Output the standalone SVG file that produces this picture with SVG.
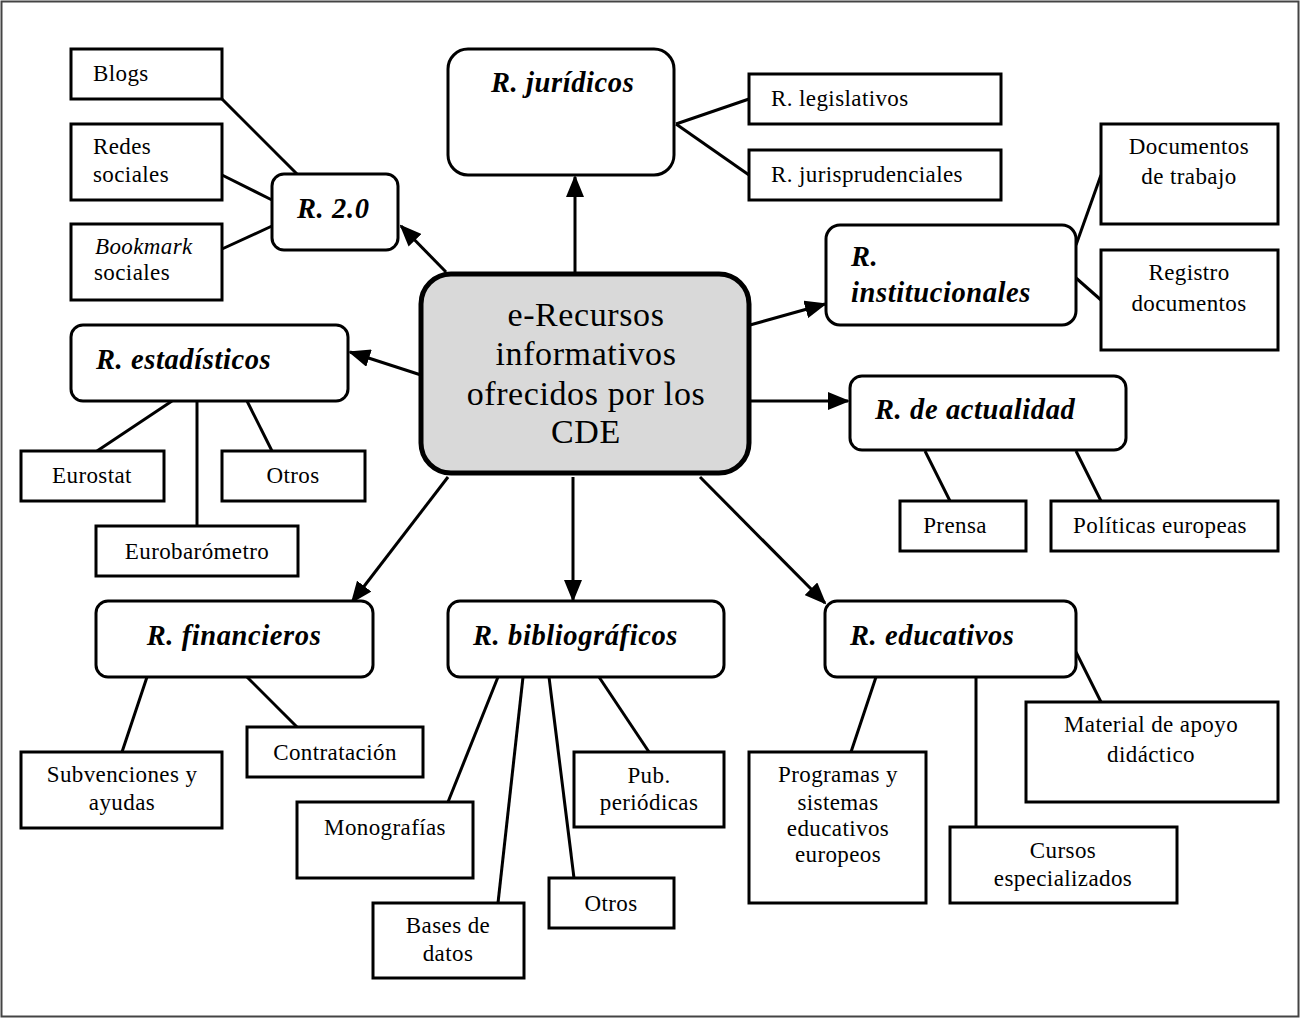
<svg xmlns="http://www.w3.org/2000/svg" width="1300" height="1018" viewBox="0 0 1300 1018">
<defs>
<marker id="ah" markerUnits="userSpaceOnUse" markerWidth="22" markerHeight="18" refX="20" refY="9" orient="auto">
<path d="M0,0 L22,9 L0,18 Z" fill="#000"/>
</marker>
<style>
.box{fill:#fff;stroke:#000;stroke-width:3}
.rbox{fill:#fff;stroke:#000;stroke-width:3}
.t{font-family:"Liberation Serif","DejaVu Serif",serif;font-size:23px;letter-spacing:0.4px;fill:#000}
.c{text-anchor:middle}
.h{font-family:"Liberation Serif","DejaVu Serif",serif;font-size:28.5px;letter-spacing:0.6px;font-weight:bold;font-style:italic;fill:#000}
.ln{stroke:#000;stroke-width:3;fill:none}
.ar{stroke:#000;stroke-width:3;fill:none;marker-end:url(#ah)}
</style>
</defs>
<rect x="0" y="0" width="1300" height="1018" fill="#fff"/>
<rect x="1.5" y="1.5" width="1297" height="1015" fill="none" stroke="#444" stroke-width="2"/>

<g id="connectors">
<line class="ln" x1="222" y1="99" x2="297" y2="174"/>
<line class="ln" x1="222" y1="175" x2="272" y2="200"/>
<line class="ln" x1="222" y1="249" x2="272" y2="226"/>
<line class="ln" x1="676" y1="124" x2="749" y2="99"/>
<line class="ln" x1="676" y1="124" x2="749" y2="175"/>
<line class="ln" x1="1076" y1="245" x2="1101" y2="175"/>
<line class="ln" x1="1076" y1="278" x2="1101" y2="300"/>
<line class="ln" x1="172" y1="401" x2="97" y2="451"/>
<line class="ln" x1="197" y1="401" x2="197" y2="526"/>
<line class="ln" x1="247" y1="401" x2="272" y2="451"/>
<line class="ln" x1="925" y1="451" x2="950" y2="501"/>
<line class="ln" x1="1076" y1="451" x2="1101" y2="501"/>
<line class="ln" x1="147" y1="677" x2="122" y2="752"/>
<line class="ln" x1="247" y1="677" x2="297" y2="727"/>
<line class="ln" x1="498" y1="677" x2="448" y2="802"/>
<line class="ln" x1="523" y1="677" x2="498" y2="903"/>
<line class="ln" x1="549" y1="677" x2="574" y2="878"/>
<line class="ln" x1="599" y1="677" x2="649" y2="752"/>
<line class="ln" x1="876" y1="677" x2="851" y2="752"/>
<line class="ln" x1="976" y1="677" x2="976" y2="827"/>
<line class="ln" x1="1076" y1="652" x2="1101" y2="702"/>
<line class="ar" x1="446" y1="272" x2="401" y2="226"/>
<line class="ar" x1="575" y1="272" x2="575" y2="177"/>
<line class="ar" x1="750" y1="325" x2="825" y2="304"/>
<line class="ar" x1="421" y1="375" x2="350" y2="352"/>
<line class="ar" x1="750" y1="401" x2="848" y2="401"/>
<line class="ar" x1="448" y1="477" x2="352" y2="602"/>
<line class="ar" x1="573" y1="477" x2="573" y2="600"/>
<line class="ar" x1="700" y1="477" x2="825" y2="603"/>
</g>

<g id="center">
<rect x="421" y="274" width="328" height="199" rx="30" fill="#d9d9d9" stroke="#000" stroke-width="5"/>
<text class="t c" x="586" y="326" style="font-size:34px;letter-spacing:0.6px">e-Recursos</text>
<text class="t c" x="586" y="365" style="font-size:34px;letter-spacing:0.6px">informativos</text>
<text class="t c" x="586" y="405" style="font-size:34px;letter-spacing:0.6px">ofrecidos por los</text>
<text class="t c" x="586" y="443" style="font-size:34px;letter-spacing:0.6px">CDE</text>
</g>

<g id="r20">
<rect class="rbox" x="272" y="174" width="126" height="76" rx="12"/>
<text class="h" x="297" y="218">R. 2.0</text>
</g>
<g id="blogs"><rect class="box" x="71" y="49" width="151" height="50"/><text class="t" x="93" y="81">Blogs</text></g>
<g id="redes"><rect class="box" x="71" y="124" width="151" height="76"/><text class="t" x="93" y="154">Redes</text><text class="t" x="93" y="182">sociales</text></g>
<g id="bookmark"><rect class="box" x="71" y="224" width="151" height="76"/><text class="t" x="95" y="254" font-style="italic">Bookmark</text><text class="t" x="94" y="280">sociales</text></g>

<g id="juridicos">
<rect class="rbox" x="448" y="49" width="226" height="126" rx="20"/>
<text class="h" x="491" y="92">R. jurídicos</text>
</g>
<g id="legislativos"><rect class="box" x="749" y="74" width="252" height="50"/><text class="t" x="771" y="106">R. legislativos</text></g>
<g id="jurisprudenciales"><rect class="box" x="749" y="150" width="252" height="50"/><text class="t" x="771" y="182">R. jurisprudenciales</text></g>

<g id="institucionales">
<rect class="rbox" x="826" y="225" width="250" height="100" rx="14"/>
<text class="h" x="851" y="266">R.</text>
<text class="h" x="851" y="302">institucionales</text>
</g>
<g id="doctrabajo"><rect class="box" x="1101" y="124" width="177" height="100"/><text class="t c" x="1189" y="154">Documentos</text><text class="t c" x="1189" y="184">de trabajo</text></g>
<g id="registro"><rect class="box" x="1101" y="250" width="177" height="100"/><text class="t c" x="1189" y="280">Registro</text><text class="t c" x="1189" y="311">documentos</text></g>

<g id="estadisticos">
<rect class="rbox" x="71" y="325" width="277" height="76" rx="12"/>
<text class="h" x="96" y="369">R. estadísticos</text>
</g>
<g id="eurostat"><rect class="box" x="21" y="451" width="143" height="50"/><text class="t c" x="92" y="483">Eurostat</text></g>
<g id="otros1"><rect class="box" x="222" y="451" width="143" height="50"/><text class="t c" x="293" y="483">Otros</text></g>
<g id="eurobarometro"><rect class="box" x="96" y="526" width="202" height="50"/><text class="t c" x="197" y="559">Eurobarómetro</text></g>

<g id="actualidad">
<rect class="rbox" x="850" y="376" width="276" height="74" rx="12"/>
<text class="h" x="875" y="419">R. de actualidad</text>
</g>
<g id="prensa"><rect class="box" x="900" y="501" width="126" height="50"/><text class="t c" x="955" y="533">Prensa</text></g>
<g id="politicas"><rect class="box" x="1051" y="501" width="227" height="50"/><text class="t c" x="1160" y="533">Políticas europeas</text></g>

<g id="financieros">
<rect class="rbox" x="96" y="601" width="277" height="76" rx="12"/>
<text class="h c" x="234" y="645">R. financieros</text>
</g>
<g id="subvenciones"><rect class="box" x="21" y="752" width="201" height="76"/><text class="t c" x="122" y="782">Subvenciones y</text><text class="t c" x="122" y="810">ayudas</text></g>
<g id="contratacion"><rect class="box" x="247" y="727" width="176" height="50"/><text class="t c" x="335" y="760">Contratación</text></g>

<g id="bibliograficos">
<rect class="rbox" x="448" y="601" width="276" height="76" rx="12"/>
<text class="h" x="473" y="645">R. bibliográficos</text>
</g>
<g id="monografias"><rect class="box" x="297" y="802" width="176" height="76"/><text class="t c" x="385" y="835">Monografías</text></g>
<g id="bases"><rect class="box" x="373" y="903" width="151" height="75"/><text class="t c" x="448" y="933">Bases de</text><text class="t c" x="448" y="961">datos</text></g>
<g id="otros2"><rect class="box" x="549" y="878" width="125" height="50"/><text class="t c" x="611" y="911">Otros</text></g>
<g id="pub"><rect class="box" x="574" y="752" width="150" height="75"/><text class="t c" x="649" y="783">Pub.</text><text class="t c" x="649" y="810">periódicas</text></g>

<g id="educativos">
<rect class="rbox" x="825" y="601" width="251" height="76" rx="12"/>
<text class="h" x="850" y="645">R. educativos</text>
</g>
<g id="programas"><rect class="box" x="749" y="752" width="177" height="151"/><text class="t c" x="838" y="782">Programas y</text><text class="t c" x="838" y="810">sistemas</text><text class="t c" x="838" y="836">educativos</text><text class="t c" x="838" y="862">europeos</text></g>
<g id="cursos"><rect class="box" x="950" y="827" width="227" height="76"/><text class="t c" x="1063" y="858">Cursos</text><text class="t c" x="1063" y="886">especializados</text></g>
<g id="material"><rect class="box" x="1026" y="702" width="252" height="100"/><text class="t c" x="1151" y="732">Material de apoyo</text><text class="t c" x="1151" y="762">didáctico</text></g>
</svg>
